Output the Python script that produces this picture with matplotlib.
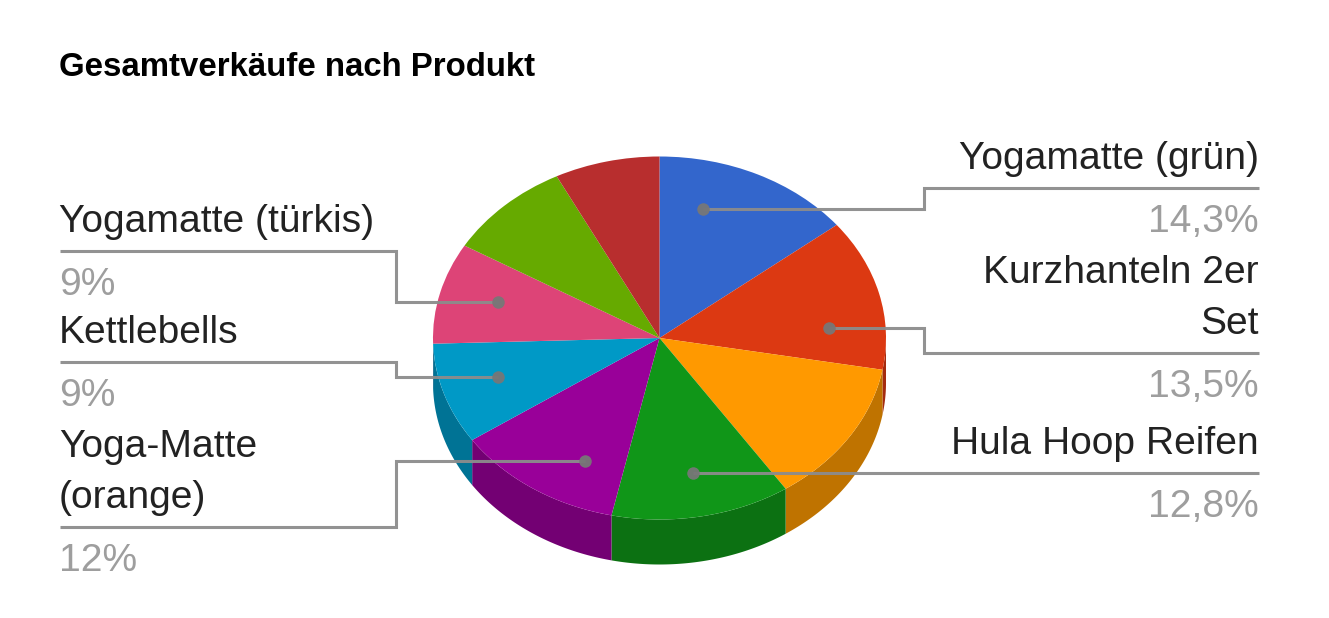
import numpy as np
import matplotlib
matplotlib.use("Agg")
import matplotlib.pyplot as plt
from matplotlib.colors import to_rgb

W, H = 1329, 618
plt.rcParams['font.family'] = ['Liberation Sans', 'DejaVu Sans']

products = ["Yogamatte (grün)", "Kurzhanteln 2er\nSet", "Orange", "Hula Hoop Reifen",
            "Yoga-Matte\n(orange)", "Kettlebells", "Yogamatte (türkis)", "Limette", "Rot"]
values = [14.3, 13.5, 12.8, 12.8, 12.1, 9.0, 9.0, 9.0, 7.5]
colors = ["#3366cc", "#dc3912", "#ff9900", "#109618", "#990099",
          "#0099c6", "#dd4477", "#66aa00", "#b82e2e"]
pct_labels = ["14,3%", "13,5%", "", "12,8%", "12%", "9%", "9%", "", ""]

fig = plt.figure(figsize=(W / 100, H / 100), dpi=100)

# Pie axes: unit circle stretched to the ellipse of the top face
cx, cy, rx, ry, depth = 659.5, 338.0, 226.5, 181.5, 45.0
ax = fig.add_axes([(cx - rx) / W, 1 - (cy + ry) / H, 2 * rx / W, 2 * ry / H])
ax.pie(values, colors=colors, startangle=90, counterclock=False, radius=1,
       wedgeprops=dict(linewidth=0))
ax.set_aspect('auto')
ax.set_xlim(-1, 1)
ax.set_ylim(-1, 1)
ax.set_axis_off()

# Side wall of the visible (lower) half
d = depth / ry
edges = np.cumsum([0] + values) / sum(values) * 360
for i, col in enumerate(colors):
    a0, a1 = max(edges[i], 90), min(edges[i + 1], 270)
    if a1 <= a0:
        continue
    t = np.radians(np.linspace(a0, a1, 80))
    x, y = np.sin(t), np.cos(t)
    base = np.array(to_rgb(col))
    ax.fill(np.r_[x, x[::-1]], np.r_[y, y[::-1] - d], color=base * 0.75,
            lw=0, zorder=0, clip_on=False)

# Overlay in pixel coordinates for title, labels, leaders
ov = fig.add_axes([0, 0, 1, 1], facecolor='none')
ov.set_xlim(0, W)
ov.set_ylim(H, 0)
ov.set_axis_off()
ov.text(59, 67, "Gesamtverkäufe nach Produkt", fontsize=23.8, fontweight='bold',
        color='black', va='center', ha='left')

LBL, PCT, LINE = "#222222", "#9e9e9e", "#8c8c8c"
FS = 28.1
leaders = {
    0: ([703, 924, 924, 1259], [209, 209, 188, 188]),
    1: ([829, 924, 924, 1259], [328, 328, 353, 353]),
    3: ([693, 1259], [473, 473]),
    4: ([585, 396, 396, 60], [461, 461, 527, 527]),
    5: ([498, 396, 396, 60], [377, 377, 362, 362]),
    6: ([498, 396, 396, 60], [302, 302, 251, 251]),
}
label_pos = {
    0: (1259, 'right', [159], 222),
    1: (1259, 'right', [273, 324], 387),
    3: (1259, 'right', [444], 507),
    4: (59, 'left', [447, 498], 561),
    5: (59, 'left', [333], 396),
    6: (59, 'left', [222], 285),
}
for i, (xs, ys) in leaders.items():
    ov.plot(xs, ys, color=LINE, lw=2.2, solid_joinstyle='miter', solid_capstyle='butt',
            alpha=0.95, zorder=3)
    ov.plot(xs[0], ys[0], 'o', color="#777777", ms=9, mew=0, alpha=0.95, zorder=4)
    x, ha, line_ys, py = label_pos[i]
    for s, ly in zip(products[i].split("\n"), line_ys):
        ov.text(x, ly, s, fontsize=FS, color=LBL, ha=ha, va='center')
    ov.text(x, py, pct_labels[i], fontsize=FS, color=PCT, ha=ha, va='center')

fig.savefig("out.png", dpi=100)
